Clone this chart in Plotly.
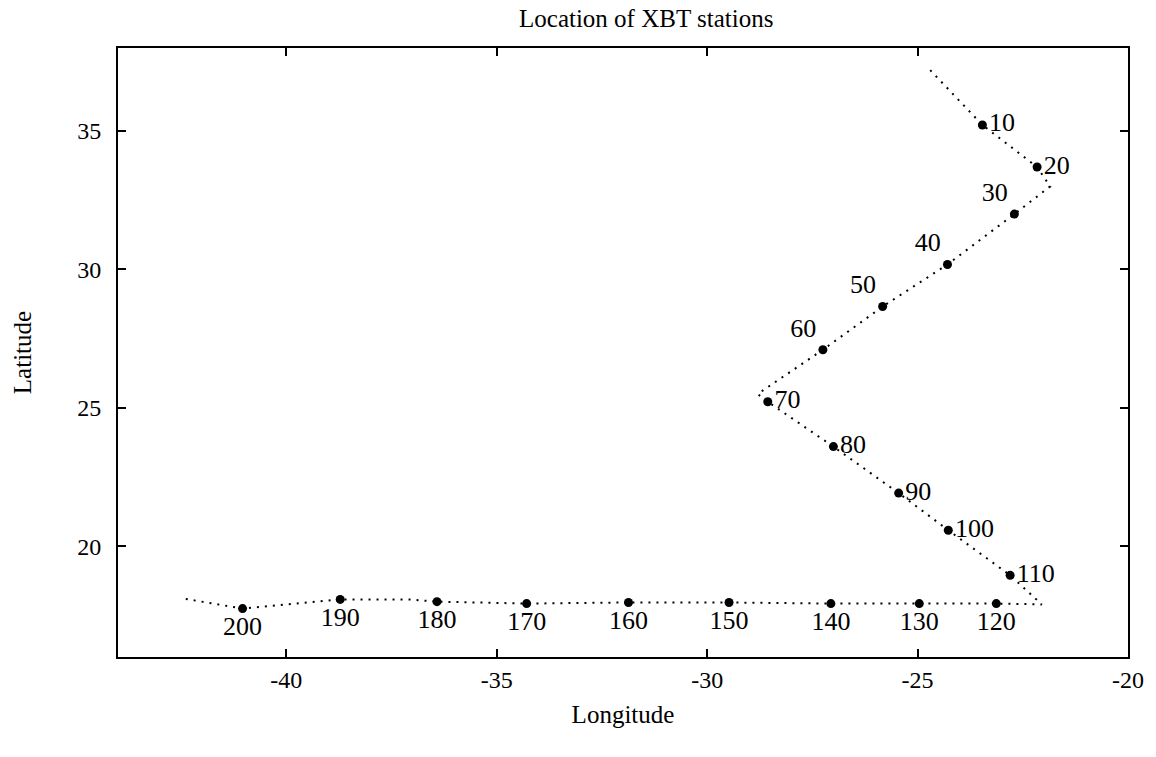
import plotly.graph_objects as go

# Station positions (every 10th XBT station)
station_ids = [10, 20, 30, 40, 50, 60, 70, 80, 90, 100,
               110, 120, 130, 140, 150, 160, 170, 180, 190, 200]
station_lon = [-23.46, -22.16, -22.70, -24.29, -25.83, -27.25, -28.56, -27.00, -25.45, -24.27,
               -22.80, -23.13, -24.96, -27.06, -29.48, -31.87, -34.29, -36.42, -38.72, -41.04]
station_lat = [35.22, 33.70, 32.00, 30.18, 28.66, 27.10, 25.22, 23.60, 21.92, 20.58,
               18.95, 17.93, 17.93, 17.93, 17.97, 17.97, 17.93, 18.00, 18.08, 17.75]
label_pos = ["middle right", "middle right", "top left", "top left", "top left", "top left",
             "middle right", "middle right", "middle right", "middle right", "middle right",
             "bottom center", "bottom center", "bottom center", "bottom center", "bottom center",
             "bottom center", "bottom center", "bottom center", "bottom center"]

# Ship track (dotted)
track_lon = [-24.70, -24.45, -23.46, -22.16, -21.85, -22.70, -24.29, -25.83, -27.25, -28.80,
             -28.56, -27.00, -25.45, -24.27, -22.80, -22.05, -23.13, -24.96, -27.06, -29.48,
             -31.87, -34.29, -36.42, -37.10, -38.72, -41.04, -42.40]
track_lat = [37.20, 36.80, 35.22, 33.70, 33.00, 32.00, 30.18, 28.66, 27.10, 25.50,
             25.22, 23.60, 21.92, 20.58, 18.95, 17.90, 17.93, 17.93, 17.93, 17.97,
             17.97, 17.93, 18.00, 18.08, 18.08, 17.75, 18.10]

x_ticks = [-40, -35, -30, -25, -20]
y_ticks = [20, 25, 30, 35]

font_family = "Liberation Serif"

fig = go.Figure()
fig.add_trace(go.Scatter(
    x=track_lon, y=track_lat, mode="lines",
    line=dict(color="black", width=2, dash="2px,6px"),
    hoverinfo="skip", showlegend=False))
fig.add_trace(go.Scatter(
    x=station_lon, y=station_lat, mode="markers+text",
    marker=dict(color="black", size=9),
    text=[str(s) for s in station_ids], textposition=label_pos,
    textfont=dict(family=font_family, size=26, color="black"),
    showlegend=False))

axis_common = dict(
    showgrid=False, zeroline=False, showline=True, linecolor="black", linewidth=2,
    mirror="ticks", ticks="inside", ticklen=8, tickwidth=1.5, tickcolor="black",
    tickfont=dict(family=font_family, size=24, color="black"),
)
fig.update_xaxes(range=[-44, -20], tickvals=x_ticks, ticktext=[str(t) for t in x_ticks],
                 title=dict(text="Longitude", font=dict(family=font_family, size=25, color="black"),
                            standoff=14),
                 **axis_common)
fig.update_yaxes(range=[16, 38], tickvals=y_ticks, ticktext=[str(t) for t in y_ticks],
                 ticklabelstandoff=10,
                 title=dict(text="Latitude", font=dict(family=font_family, size=25, color="black"),
                            standoff=38),
                 **axis_common)
fig.update_layout(
    width=1156, height=757,
    margin=dict(l=118, r=28, t=48, b=100),
    paper_bgcolor="white", plot_bgcolor="white",
    title=dict(text="Location of XBT stations", x=0.559, xanchor="center", y=0.988,
               yanchor="top", font=dict(family=font_family, size=25, color="black")),
)
fig.write_html("out.html")
